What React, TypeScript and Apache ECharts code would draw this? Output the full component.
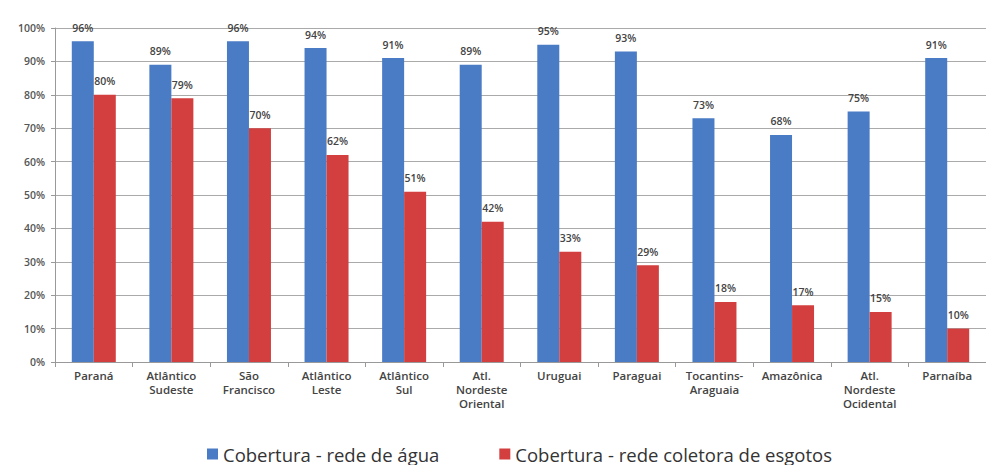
import React, { useEffect, useRef } from "react";
import * as echarts from "echarts";

const categories = [
  "Paraná",
  "Atlântico\nSudeste",
  "São\nFrancisco",
  "Atlântico\nLeste",
  "Atlântico\nSul",
  "Atl.\nNordeste\nOriental",
  "Uruguai",
  "Paraguai",
  "Tocantins-\nAraguaia",
  "Amazônica",
  "Atl.\nNordeste\nOcidental",
  "Parnaíba",
];
const aguaValues = [96, 89, 96, 94, 91, 89, 95, 93, 73, 68, 75, 91];
const esgotoValues = [80, 79, 70, 62, 51, 42, 33, 29, 18, 17, 15, 10];
const seriesNames = ["Cobertura - rede de água", "Cobertura - rede coletora de esgotos"];

const FONT = "'Open Sans', sans-serif";

export default function App() {
  const ref = useRef<HTMLDivElement>(null);
  useEffect(() => {
    if (!ref.current) return;
    const chart = echarts.init(ref.current, undefined, { renderer: "svg" });
    const labelCfg = {
      show: true,
      position: "top",
      distance: 8,
      formatter: "{c}%",
      fontSize: 10.5,
      fontWeight: 600,
      color: "#444",
      fontFamily: FONT,
    };
    chart.setOption({
      animation: false,
      backgroundColor: "#ffffff",
      grid: { left: 55, top: 28, width: 941, height: 334, containLabel: false },
      legend: {
        top: 438,
        left: 202,
        itemWidth: 11,
        itemHeight: 11,
        itemGap: 60,
        icon: "rect",
        textStyle: { fontSize: 18.5, color: "#333", fontFamily: FONT, lineHeight: 22 },
        data: seriesNames,
      },
      xAxis: {
        type: "category",
        data: categories,
        axisLine: { lineStyle: { color: "#999" } },
        axisTick: { show: true, length: 5, lineStyle: { color: "#999" } },
        axisLabel: {
          interval: 0,
          fontSize: 11.5,
          fontWeight: 600,
          color: "#444",
          lineHeight: 14,
          margin: 6,
          fontFamily: FONT,
        },
      },
      yAxis: {
        type: "value",
        min: 0,
        max: 100,
        interval: 10,
        axisLine: { show: true, lineStyle: { color: "#999" } },
        axisTick: { show: true, length: 4, lineStyle: { color: "#999" } },
        splitLine: { lineStyle: { color: "#aaa" } },
        axisLabel: {
          formatter: "{value}%",
          fontSize: 10.5,
          fontWeight: 600,
          color: "#555",
          margin: 10,
          fontFamily: FONT,
        },
      },
      series: [
        {
          name: seriesNames[0],
          type: "bar",
          data: aguaValues,
          barWidth: 22,
          barGap: "0%",
          itemStyle: { color: "#4a7bc5" },
          label: labelCfg,
        },
        {
          name: seriesNames[1],
          type: "bar",
          data: esgotoValues,
          barWidth: 22,
          barGap: "0%",
          itemStyle: { color: "#d33f3f" },
          label: labelCfg,
        },
      ],
    });
    return () => chart.dispose();
  }, []);
  return (
    <div
      ref={ref}
      style={{ position: "fixed", left: 0, top: 0, width: 986, height: 465, overflow: "hidden" }}
    />
  );
}
